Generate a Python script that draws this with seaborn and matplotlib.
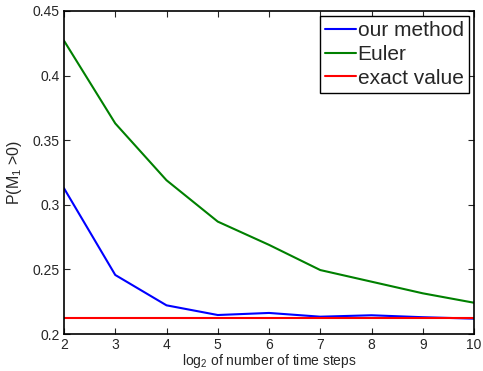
import matplotlib
matplotlib.use('Agg')
import matplotlib.pyplot as plt
import seaborn as sns
import pandas as pd

# Data
steps = [2, 3, 4, 5, 6, 7, 8, 9, 10]
our_method = [0.3128, 0.2457, 0.2222, 0.2147, 0.2163, 0.2134, 0.2145, 0.2130, 0.2119]
euler = [0.427, 0.363, 0.319, 0.287, 0.269, 0.2495, 0.2405, 0.2315, 0.2242]
exact = [0.2126] * len(steps)

df = pd.DataFrame({'steps': steps * 3,
                   'value': our_method + euler + exact,
                   'series': ['our method'] * 9 + ['Euler'] * 9 + ['exact value'] * 9})

sns.set_style('ticks')
plt.rcParams['font.family'] = ['Liberation Sans', 'DejaVu Sans']
plt.rcParams['mathtext.default'] = 'regular'

fig = plt.figure(figsize=(4.83, 3.71), dpi=100)
ax = fig.add_axes([0.1325, 0.0997, 0.8489, 0.8707])

sns.lineplot(data=df, x='steps', y='value', hue='series',
             palette={'our method': '#0000ff', 'Euler': '#008000', 'exact value': '#ff0000'},
             linewidth=1.5, ax=ax)

ax.set_xlim(2, 10)
ax.set_ylim(0.2, 0.45)
ax.set_xticks(range(2, 11))
ax.set_yticks([0.2, 0.25, 0.3, 0.35, 0.4, 0.45])
ax.set_yticklabels(['0.2', '0.25', '0.3', '0.35', '0.4', '0.45'])
ax.tick_params(direction='in', top=True, right=True, labelsize=10, length=4, width=0.8, pad=3)
for s in ax.spines.values():
    s.set_linewidth(1.2)
    s.set_color('black')

ax.set_xlabel(r'log$_2$ of number of time steps', fontsize=10, labelpad=0)
ax.set_ylabel(r'P(M$_1$ >0)', fontsize=11.5, labelpad=6)

leg = ax.legend(loc='upper right', fontsize=15, handlelength=1.45, handletextpad=0.1,
                borderpad=0.25, labelspacing=0.22, borderaxespad=0.25, fancybox=False,
                framealpha=1, edgecolor='black')
leg.get_frame().set_linewidth(1.0)

fig.savefig('out.png', dpi=100)
